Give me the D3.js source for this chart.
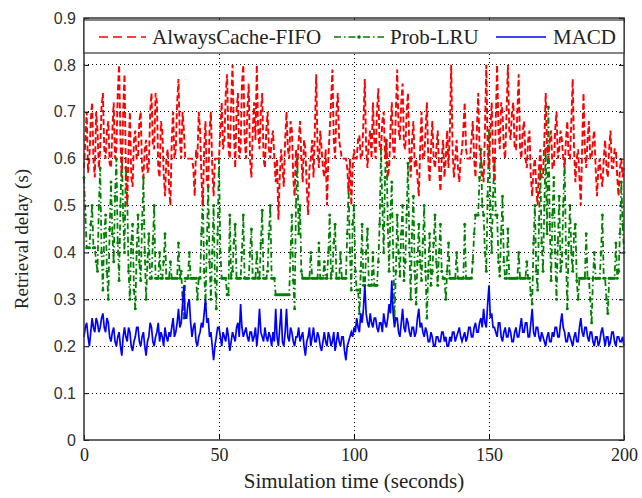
<!DOCTYPE html>
<html>
<head>
<meta charset="utf-8">
<script src="https://cdn.jsdelivr.net/npm/d3@7"></script>
<style>
  html, body { margin: 0; padding: 0; background: #fff; }
  svg { display: block; }
</style>
</head>
<body>
<svg id="chart" width="642" height="498"></svg>
<script>
// ---- data (one sample every 0.5 s, t = 0..200) ----
const seriesNames = ["AlwaysCache-FIFO", "Prob-LRU", "MACD"];
const xTicks = [0, 50, 100, 150, 200];
const yTicks = [0, 0.1, 0.2, 0.3, 0.4, 0.5, 0.6, 0.7, 0.8, 0.9];
const yTickLabels = ["0", "0.1", "0.2", "0.3", "0.4", "0.5", "0.6", "0.7", "0.8", "0.9"];
const xLabel = "Simulation time (seconds)";
const yLabel = "Retrieval delay (s)";

const fifoDelay = [
  0.58,0.64,0.70,0.57,0.60,0.68,0.72,0.60,0.56,0.70,0.66,0.58,0.62,0.71,0.74,0.62,0.60,0.66,0.68,0.59,
  0.58,0.66,0.72,0.60,0.62,0.74,0.80,0.64,0.56,0.70,0.78,0.58,0.50,0.62,0.70,0.56,0.54,0.64,0.66,0.60,
  0.60,0.68,0.70,0.58,0.56,0.62,0.64,0.57,0.58,0.70,0.74,0.63,0.62,0.74,0.72,0.58,0.56,0.68,0.66,0.57,
  0.52,0.60,0.62,0.54,0.50,0.64,0.70,0.60,0.62,0.72,0.77,0.64,0.60,0.70,0.66,0.60,0.60,0.60,0.60,0.60,
  0.60,0.58,0.52,0.62,0.60,0.70,0.66,0.56,0.50,0.62,0.68,0.55,0.54,0.66,0.70,0.58,0.52,0.60,0.60,0.60,
  0.60,0.66,0.72,0.62,0.64,0.74,0.78,0.62,0.60,0.72,0.80,0.66,0.58,0.70,0.74,0.60,0.62,0.76,0.80,0.64,
  0.60,0.70,0.76,0.60,0.56,0.66,0.72,0.64,0.80,0.66,0.62,0.70,0.74,0.60,0.58,0.66,0.70,0.62,0.60,0.64,
  0.66,0.60,0.55,0.60,0.47,0.56,0.62,0.58,0.54,0.64,0.70,0.62,0.60,0.68,0.66,0.56,0.52,0.62,0.58,0.64,
  0.68,0.60,0.55,0.64,0.62,0.54,0.48,0.58,0.60,0.64,0.56,0.66,0.78,0.62,0.58,0.66,0.62,0.58,0.56,0.62,
  0.50,0.60,0.66,0.72,0.79,0.64,0.60,0.70,0.74,0.64,0.62,0.60,0.60,0.60,0.60,0.58,0.53,0.60,0.50,0.58,
  0.62,0.60,0.60,0.64,0.65,0.60,0.60,0.68,0.77,0.62,0.58,0.64,0.66,0.60,0.72,0.64,0.60,0.70,0.75,0.62,
  0.62,0.68,0.70,0.60,0.64,0.56,0.58,0.66,0.72,0.62,0.60,0.70,0.79,0.66,0.64,0.72,0.76,0.63,0.62,0.70,
  0.74,0.62,0.56,0.64,0.68,0.58,0.60,0.56,0.52,0.62,0.70,0.60,0.60,0.66,0.72,0.60,0.55,0.62,0.68,0.60,
  0.58,0.62,0.66,0.58,0.53,0.60,0.64,0.56,0.60,0.66,0.58,0.66,0.80,0.62,0.56,0.60,0.64,0.58,0.55,0.60,
  0.62,0.66,0.72,0.62,0.60,0.60,0.60,0.64,0.68,0.60,0.56,0.66,0.74,0.62,0.60,0.58,0.55,0.66,0.80,0.62,
  0.58,0.66,0.72,0.60,0.55,0.68,0.80,0.66,0.62,0.72,0.70,0.62,0.60,0.70,0.80,0.66,0.64,0.70,0.72,0.62,
  0.62,0.70,0.78,0.62,0.60,0.66,0.68,0.60,0.58,0.64,0.66,0.56,0.52,0.58,0.60,0.54,0.50,0.58,0.62,0.56,
  0.56,0.64,0.74,0.62,0.60,0.64,0.66,0.58,0.58,0.66,0.70,0.60,0.62,0.66,0.64,0.60,0.58,0.64,0.68,0.60,
  0.60,0.68,0.77,0.62,0.55,0.60,0.62,0.56,0.50,0.62,0.74,0.62,0.58,0.64,0.68,0.60,0.60,0.64,0.66,0.58,
  0.52,0.58,0.60,0.56,0.54,0.60,0.64,0.58,0.56,0.62,0.66,0.58,0.58,0.62,0.62,0.56,0.52,0.58,0.60,0.56,
  0.58
];

const lruDelay = [
  0.56,0.48,0.41,0.41,0.41,0.46,0.50,0.41,0.41,0.38,0.36,0.50,0.58,0.40,0.32,0.44,0.48,0.36,0.30,0.45,
  0.55,0.44,0.38,0.52,0.60,0.42,0.34,0.50,0.62,0.48,0.40,0.58,0.52,0.36,0.30,0.42,0.46,0.32,0.28,0.40,
  0.48,0.38,0.34,0.46,0.56,0.40,0.30,0.38,0.44,0.345,0.345,0.42,0.50,0.345,0.345,0.345,0.40,0.345,0.345,0.38,
  0.44,0.345,0.345,0.345,0.38,0.345,0.345,0.345,0.345,0.345,0.42,0.345,0.36,0.30,0.26,0.345,0.345,0.345,0.40,0.345,
  0.345,0.345,0.345,0.345,0.30,0.345,0.345,0.44,0.52,0.36,0.29,0.42,0.54,0.38,0.30,0.40,0.50,0.34,0.28,0.44,
  0.60,0.40,0.345,0.345,0.345,0.345,0.31,0.31,0.48,0.345,0.36,0.42,0.46,0.345,0.345,0.345,0.345,0.40,0.48,0.345,
  0.345,0.345,0.345,0.40,0.45,0.345,0.345,0.345,0.40,0.345,0.345,0.42,0.49,0.345,0.345,0.345,0.36,0.44,0.50,0.345,
  0.345,0.345,0.31,0.31,0.31,0.31,0.31,0.31,0.31,0.31,0.31,0.31,0.31,0.40,0.48,0.34,0.28,0.50,0.60,0.44,
  0.50,0.36,0.345,0.345,0.345,0.345,0.345,0.345,0.40,0.345,0.345,0.345,0.345,0.345,0.42,0.345,0.345,0.345,0.38,0.345,
  0.345,0.40,0.48,0.345,0.36,0.42,0.46,0.345,0.345,0.345,0.40,0.345,0.345,0.345,0.345,0.44,0.54,0.40,0.32,0.46,
  0.50,0.36,0.32,0.32,0.27,0.36,0.46,0.33,0.33,0.40,0.45,0.33,0.33,0.33,0.40,0.33,0.33,0.33,0.38,0.46,
  0.62,0.50,0.40,0.56,0.64,0.46,0.36,0.48,0.55,0.40,0.26,0.36,0.48,0.40,0.35,0.44,0.50,0.34,0.38,0.48,
  0.59,0.42,0.30,0.44,0.52,0.36,0.29,0.38,0.46,0.38,0.34,0.42,0.50,0.36,0.26,0.36,0.44,0.33,0.36,0.42,
  0.48,0.38,0.33,0.40,0.46,0.36,0.345,0.345,0.30,0.36,0.42,0.345,0.345,0.345,0.345,0.345,0.40,0.345,0.345,0.345,
  0.345,0.345,0.46,0.345,0.345,0.345,0.345,0.345,0.38,0.44,0.48,0.48,0.48,0.56,0.62,0.50,0.48,0.40,0.36,0.52,
  0.66,0.50,0.40,0.52,0.60,0.48,0.48,0.38,0.35,0.44,0.52,0.38,0.345,0.345,0.45,0.345,0.345,0.345,0.345,0.345,
  0.345,0.345,0.40,0.345,0.345,0.345,0.345,0.345,0.38,0.345,0.345,0.31,0.29,0.42,0.50,0.36,0.32,0.46,0.58,0.42,
  0.36,0.50,0.62,0.44,0.71,0.46,0.34,0.48,0.56,0.40,0.30,0.42,0.52,0.36,0.38,0.50,0.60,0.40,0.28,0.42,
  0.50,0.40,0.36,0.44,0.46,0.34,0.30,0.345,0.345,0.345,0.345,0.345,0.44,0.345,0.345,0.30,0.25,0.345,0.40,0.345,
  0.345,0.345,0.345,0.40,0.48,0.345,0.345,0.30,0.27,0.345,0.345,0.345,0.345,0.345,0.42,0.345,0.36,0.44,0.55,0.46,
  0.40
];

const macdDelay = [
  0.22,0.24,0.25,0.22,0.20,0.23,0.26,0.24,0.23,0.26,0.25,0.23,0.24,0.26,0.27,0.24,0.23,0.26,0.25,0.22,
  0.21,0.23,0.24,0.21,0.20,0.22,0.23,0.20,0.18,0.22,0.24,0.22,0.21,0.24,0.23,0.20,0.19,0.21,0.22,0.24,
  0.24,0.21,0.20,0.22,0.23,0.20,0.18,0.21,0.22,0.25,0.24,0.21,0.20,0.22,0.23,0.25,0.21,0.23,0.22,0.20,
  0.24,0.22,0.21,0.23,0.22,0.24,0.26,0.22,0.23,0.25,0.28,0.24,0.25,0.29,0.33,0.26,0.26,0.29,0.30,0.25,
  0.22,0.24,0.25,0.21,0.20,0.22,0.23,0.25,0.24,0.27,0.30,0.25,0.26,0.22,0.23,0.20,0.17,0.20,0.22,0.24,
  0.24,0.22,0.20,0.23,0.22,0.21,0.24,0.22,0.19,0.21,0.23,0.22,0.21,0.24,0.25,0.22,0.29,0.24,0.22,0.23,
  0.24,0.22,0.21,0.23,0.23,0.21,0.22,0.24,0.20,0.23,0.28,0.23,0.22,0.21,0.24,0.22,0.21,0.23,0.22,0.20,
  0.23,0.21,0.28,0.22,0.20,0.24,0.28,0.21,0.20,0.23,0.28,0.22,0.21,0.24,0.23,0.21,0.20,0.22,0.22,0.24,
  0.21,0.22,0.23,0.20,0.18,0.21,0.22,0.24,0.20,0.22,0.24,0.21,0.21,0.23,0.22,0.20,0.19,0.21,0.23,0.21,
  0.20,0.23,0.22,0.20,0.21,0.23,0.19,0.21,0.23,0.21,0.20,0.22,0.22,0.19,0.17,0.20,0.21,0.22,0.23,0.22,
  0.24,0.23,0.26,0.24,0.23,0.27,0.25,0.28,0.33,0.27,0.25,0.24,0.27,0.25,0.24,0.26,0.26,0.24,0.23,0.25,
  0.25,0.23,0.27,0.25,0.24,0.26,0.29,0.27,0.34,0.27,0.24,0.26,0.26,0.23,0.22,0.25,0.28,0.24,0.23,0.26,
  0.25,0.23,0.22,0.24,0.24,0.22,0.23,0.26,0.28,0.24,0.25,0.23,0.22,0.24,0.23,0.21,0.21,0.23,0.22,0.20,
  0.20,0.22,0.22,0.21,0.21,0.23,0.23,0.21,0.22,0.20,0.20,0.22,0.21,0.23,0.23,0.21,0.22,0.23,0.24,0.22,
  0.21,0.22,0.23,0.21,0.22,0.24,0.24,0.22,0.22,0.24,0.25,0.23,0.23,0.25,0.26,0.24,0.28,0.25,0.24,0.29,
  0.33,0.26,0.27,0.24,0.24,0.23,0.22,0.25,0.25,0.22,0.21,0.23,0.24,0.22,0.22,0.24,0.23,0.21,0.21,0.23,
  0.24,0.22,0.22,0.24,0.26,0.23,0.23,0.25,0.25,0.22,0.22,0.25,0.28,0.23,0.22,0.24,0.24,0.22,0.21,0.23,
  0.22,0.21,0.20,0.22,0.23,0.21,0.21,0.23,0.22,0.24,0.24,0.22,0.22,0.25,0.27,0.24,0.23,0.21,0.21,0.23,
  0.22,0.21,0.20,0.22,0.23,0.21,0.21,0.24,0.26,0.23,0.22,0.24,0.24,0.22,0.21,0.23,0.23,0.21,0.20,0.22,
  0.22,0.20,0.21,0.23,0.24,0.22,0.20,0.22,0.22,0.20,0.21,0.23,0.23,0.21,0.20,0.22,0.22,0.21,0.21,0.22,
  0.20
];

const sampleStep = 0.5; // seconds between samples
const timeSec = fifoDelay.map((d, i) => i * sampleStep);

// ---- layout ----
const svg = d3.select("#chart");
const L = 84, R = 624, T = 18, B = 440;
const x = d3.scaleLinear().domain([0, 200]).range([L, R]);
const y = d3.scaleLinear().domain([0, 0.9]).range([B, T]);

const serif = "'Liberation Serif', 'Times New Roman', serif";
const sans = "'Liberation Sans', Arial, sans-serif";

// grid
const grid = svg.append("g").attr("stroke", "#000").attr("stroke-width", 1)
  .attr("stroke-dasharray", "1,3").attr("shape-rendering", "crispEdges");
xTicks.slice(1, -1).forEach(v => {
  grid.append("line").attr("x1", x(v)).attr("x2", x(v)).attr("y1", T).attr("y2", B);
});
yTicks.slice(1, -1).forEach(v => {
  grid.append("line").attr("x1", L).attr("x2", R).attr("y1", y(v)).attr("y2", y(v));
});

// series
const plot = svg.append("g");
const lineGen = vals => d3.line().x((d, i) => x(timeSec[i])).y(d => y(d))(vals);

plot.append("path").attr("d", lineGen(lruDelay)).attr("fill", "none")
  .attr("stroke", "#008000").attr("stroke-width", 1.8).attr("stroke-dasharray", "6,3,1.5,3");
plot.append("g").selectAll("circle").data(lruDelay).join("circle")
  .attr("cx", (d, i) => x(timeSec[i])).attr("cy", d => y(d)).attr("r", 1.5)
  .attr("fill", "#008000");
plot.append("path").attr("d", lineGen(fifoDelay)).attr("fill", "none")
  .attr("stroke", "#ff0000").attr("stroke-width", 1.9).attr("stroke-dasharray", "6,3");
plot.append("path").attr("d", lineGen(macdDelay)).attr("fill", "none")
  .attr("stroke", "#0000ff").attr("stroke-width", 1.7);

// axes (MATLAB-style box with inward ticks)
const axY = d3.axisLeft(y).tickValues(yTicks).tickFormat((d, i) => yTickLabels[i])
  .tickSizeInner(-5).tickSizeOuter(0).tickPadding(8);
const gy = svg.append("g").attr("transform", `translate(${L},0)`).call(axY);
gy.selectAll("text").attr("font-family", sans).attr("font-size", 16).attr("fill", "#333");
const axYR = d3.axisRight(y).tickValues(yTicks).tickFormat("").tickSizeInner(-5).tickSizeOuter(0);
svg.append("g").attr("transform", `translate(${R},0)`).call(axYR);

const axX = d3.axisBottom(x).tickValues(xTicks).tickFormat(d3.format("d"))
  .tickSizeInner(-5).tickSizeOuter(0).tickPadding(8);
const gx = svg.append("g").attr("transform", `translate(0,${B})`).call(axX);
gx.selectAll("text").attr("font-family", serif).attr("font-size", 18).attr("fill", "#222");
const axXT = d3.axisTop(x).tickValues(xTicks).tickFormat("").tickSizeInner(-5).tickSizeOuter(0);
svg.append("g").attr("transform", `translate(0,${T})`).call(axXT);

svg.selectAll(".domain").remove();
svg.selectAll(".tick line").attr("stroke", "#000");
svg.append("rect").attr("x", L).attr("y", T).attr("width", R - L).attr("height", B - T)
  .attr("fill", "none").attr("stroke", "#333").attr("stroke-width", 1.5);

// legend
const lg = svg.append("g");
lg.append("rect").attr("x", L).attr("y", 20).attr("width", R - L).attr("height", 33)
  .attr("fill", "#fff").attr("stroke", "#333").attr("stroke-width", 1.2);
const legendY = 37;
const legendItems = [
  { name: seriesNames[0], color: "#ff0000", dash: "9,5", x0: 99, x1: 146, tx: 152, dot: false },
  { name: seriesNames[1], color: "#008000", dash: "7,3,1.5,3", x0: 334, x1: 384, tx: 390, dot: true },
  { name: seriesNames[2], color: "#0000ff", dash: null, x0: 496, x1: 546, tx: 553, dot: false }
];
legendItems.forEach(it => {
  lg.append("line").attr("x1", it.x0).attr("x2", it.x1).attr("y1", legendY).attr("y2", legendY)
    .attr("stroke", it.color).attr("stroke-width", 1.4).attr("stroke-dasharray", it.dash);
  if (it.dot) lg.append("circle").attr("cx", (it.x0 + it.x1) / 2).attr("cy", legendY).attr("r", 1.8).attr("fill", it.color);
  lg.append("text").attr("x", it.tx).attr("y", legendY).attr("dy", "0.35em")
    .attr("font-family", serif).attr("font-size", 21).attr("fill", "#222").text(it.name);
});

// axis titles
svg.append("text").attr("x", (L + R) / 2).attr("y", 488).attr("text-anchor", "middle")
  .attr("font-family", serif).attr("font-size", 21).attr("fill", "#222").text(xLabel);
svg.append("text").attr("transform", `translate(28,${(T + B) / 2 + 10}) rotate(-90)`)
  .attr("text-anchor", "middle").attr("font-family", serif).attr("font-size", 19)
  .attr("fill", "#222").text(yLabel);
</script>
</body>
</html>
